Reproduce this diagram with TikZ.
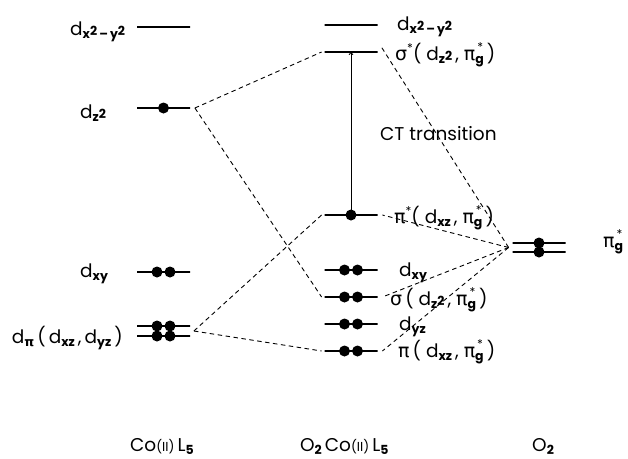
\documentclass[tikz,border=0pt]{standalone}
\usepackage{fontspec}
\setmainfont{Poppins}
\newfontfamily\grk{DejaVu Sans}
\usetikzlibrary{arrows.meta,calc}
\newcommand{\lbl}{\fontsize{18.5}{20}\selectfont}
\newcommand{\lo}[1]{\raisebox{-0.3ex}{\fontsize{12.5}{12}\selectfont\bfseries #1}}
\newcommand{\tw}{\raisebox{0.35ex}{2}}
\newcommand{\st}{\raisebox{0.75ex}{\fontsize{12}{12}\selectfont *}}
\newcommand{\gp}{{\grk\fontsize{19}{20}\selectfont π}}
\newcommand{\gs}{{\grk\fontsize{19}{20}\selectfont σ}}
\newcommand{\pig}{\gp\makebox[0pt][l]{\raisebox{0.85ex}{\fontsize{12}{12}\selectfont\,*}}\lo{g}}
\begin{document}
\begin{tikzpicture}[x=1pt,y=-1pt,
  lev/.style={draw, line width=1.8pt, shape=rectangle, minimum width=53pt, minimum height=0pt, inner sep=0pt},
  conn/.style={dash pattern=on 4.5pt off 3.5pt, line width=0.9pt},
  lab/.style={font=\lbl, inner sep=0pt, anchor=base west},
  elec/.style={fill=black}]
\useasboundingbox (0,0) rectangle (628,458);
% left column: Co(II)L5
\node[lev] (Lx) at (163.5,27) {};
\node[lev] (Lz) at (163.5,108) {};
\node[lev] (Lxy) at (163.5,272) {};
\node[lev] (Lpa) at (163.5,326) {};
\node[lev] (Lpb) at (163.5,336) {};
% middle column: O2Co(II)L5
\node[lev] (Mx) at (351,25) {};
\node[lev] (Ms) at (351,52) {};
\node[lev] (Mp) at (351,215) {};
\node[lev] (Mxy) at (351,270) {};
\node[lev] (Msig) at (351,297) {};
\node[lev] (Myz) at (351,324) {};
\node[lev] (Mpi) at (351,351) {};
% right column: O2
\node[lev] (Ra) at (539,243) {};
\node[lev] (Rb) at (539,252) {};
% electrons
\fill[elec] (Lz.center) circle (5.5);
\foreach \n in {Lxy,Lpa,Lpb,Mxy,Msig,Myz,Mpi}{
  \fill[elec] ([xshift=-6.5pt]\n.center) circle (5.5);
  \fill[elec] ([xshift=6.5pt]\n.center) circle (5.5);
}
\fill[elec] (Mp.center) circle (5.5);
\fill[elec] (Ra.center) circle (5.5);
\fill[elec] (Rb.center) circle (5.5);
% correlation lines
\coordinate (Lp) at ($(Lpa.east)!0.5!(Lpb.east)+(3,0)$);
\coordinate (Rc) at ($(Ra.west)!0.5!(Rb.west)+(-3,0)$);
\draw[conn] ([xshift=4pt]Lz.east) -- ([xshift=-2pt]Ms.west);
\draw[conn] ([xshift=4pt]Lz.east) -- ([xshift=-2pt]Msig.west);
\draw[conn] (Lp) -- ([xshift=-2pt]Mp.west);
\draw[conn] (Lp) -- ([xshift=-2pt]Mpi.west);
\draw[conn] (Rc) -- ([xshift=3pt,yshift=5pt]Ms.east);
\draw[conn] (Rc) -- ([xshift=4pt]Mp.east);
\draw[conn] (Rc) -- ([xshift=4pt]Msig.east);
\draw[conn] (Rc) -- ([xshift=4pt]Mpi.east);
% CT transition arrow
\draw[line width=0.8pt, -{To[length=4pt,width=4.5pt]}] (Mp.center) -- ([yshift=1pt]Ms.center);
% labels
\node[lab] (tLx) at (70,35) {d\lo{x\tw\,–\,y\tw}};
\node[lab] (tLz) at (80,118) {d\lo{z\tw}};
\node[lab] (tLxy) at (80,277) {d\lo{xy}};
\node[lab, anchor=base east] (tLp) at (123,343) {d\lo{\grk π}\,(\,d\lo{xz}\,,\,d\lo{yz}\,)};
\node[lab] (tMx) at (397,30) {d\lo{x\tw\,–\,y\tw}};
\node[lab] (tMs) at (395,60) {\gs\st( d\lo{z\tw}\,, \pig\,)};
\node[lab] (tCT) at (380,140) {CT transition};
\node[lab] (tMp) at (394,223) {\gp\st( d\lo{xz}\,, \pig\,)};
\node[lab] (tMxy) at (399,276) {d\lo{xy}};
\node[lab] (tMsig) at (390,305) {\gs\,( d\lo{z\tw}\,, \pig\,)};
\node[lab] (tMyz) at (399,330) {d\lo{yz}};
\node[lab] (tMpi) at (398,357) {\gp\,( d\lo{xz}\,, \pig\,)};
\node[lab] (tR) at (603,247) {\pig};
\node[lab] (tA) at (130,451) {Co{\fontsize{13}{13}\selectfont(II)}\,L\lo{5}};
\node[lab] (tB) at (300,451) {O\lo{2}\,Co{\fontsize{13}{13}\selectfont(II)}\,L\lo{5}};
\node[lab] (tC) at (532,451) {O\lo{2}};
\end{tikzpicture}
\end{document}
